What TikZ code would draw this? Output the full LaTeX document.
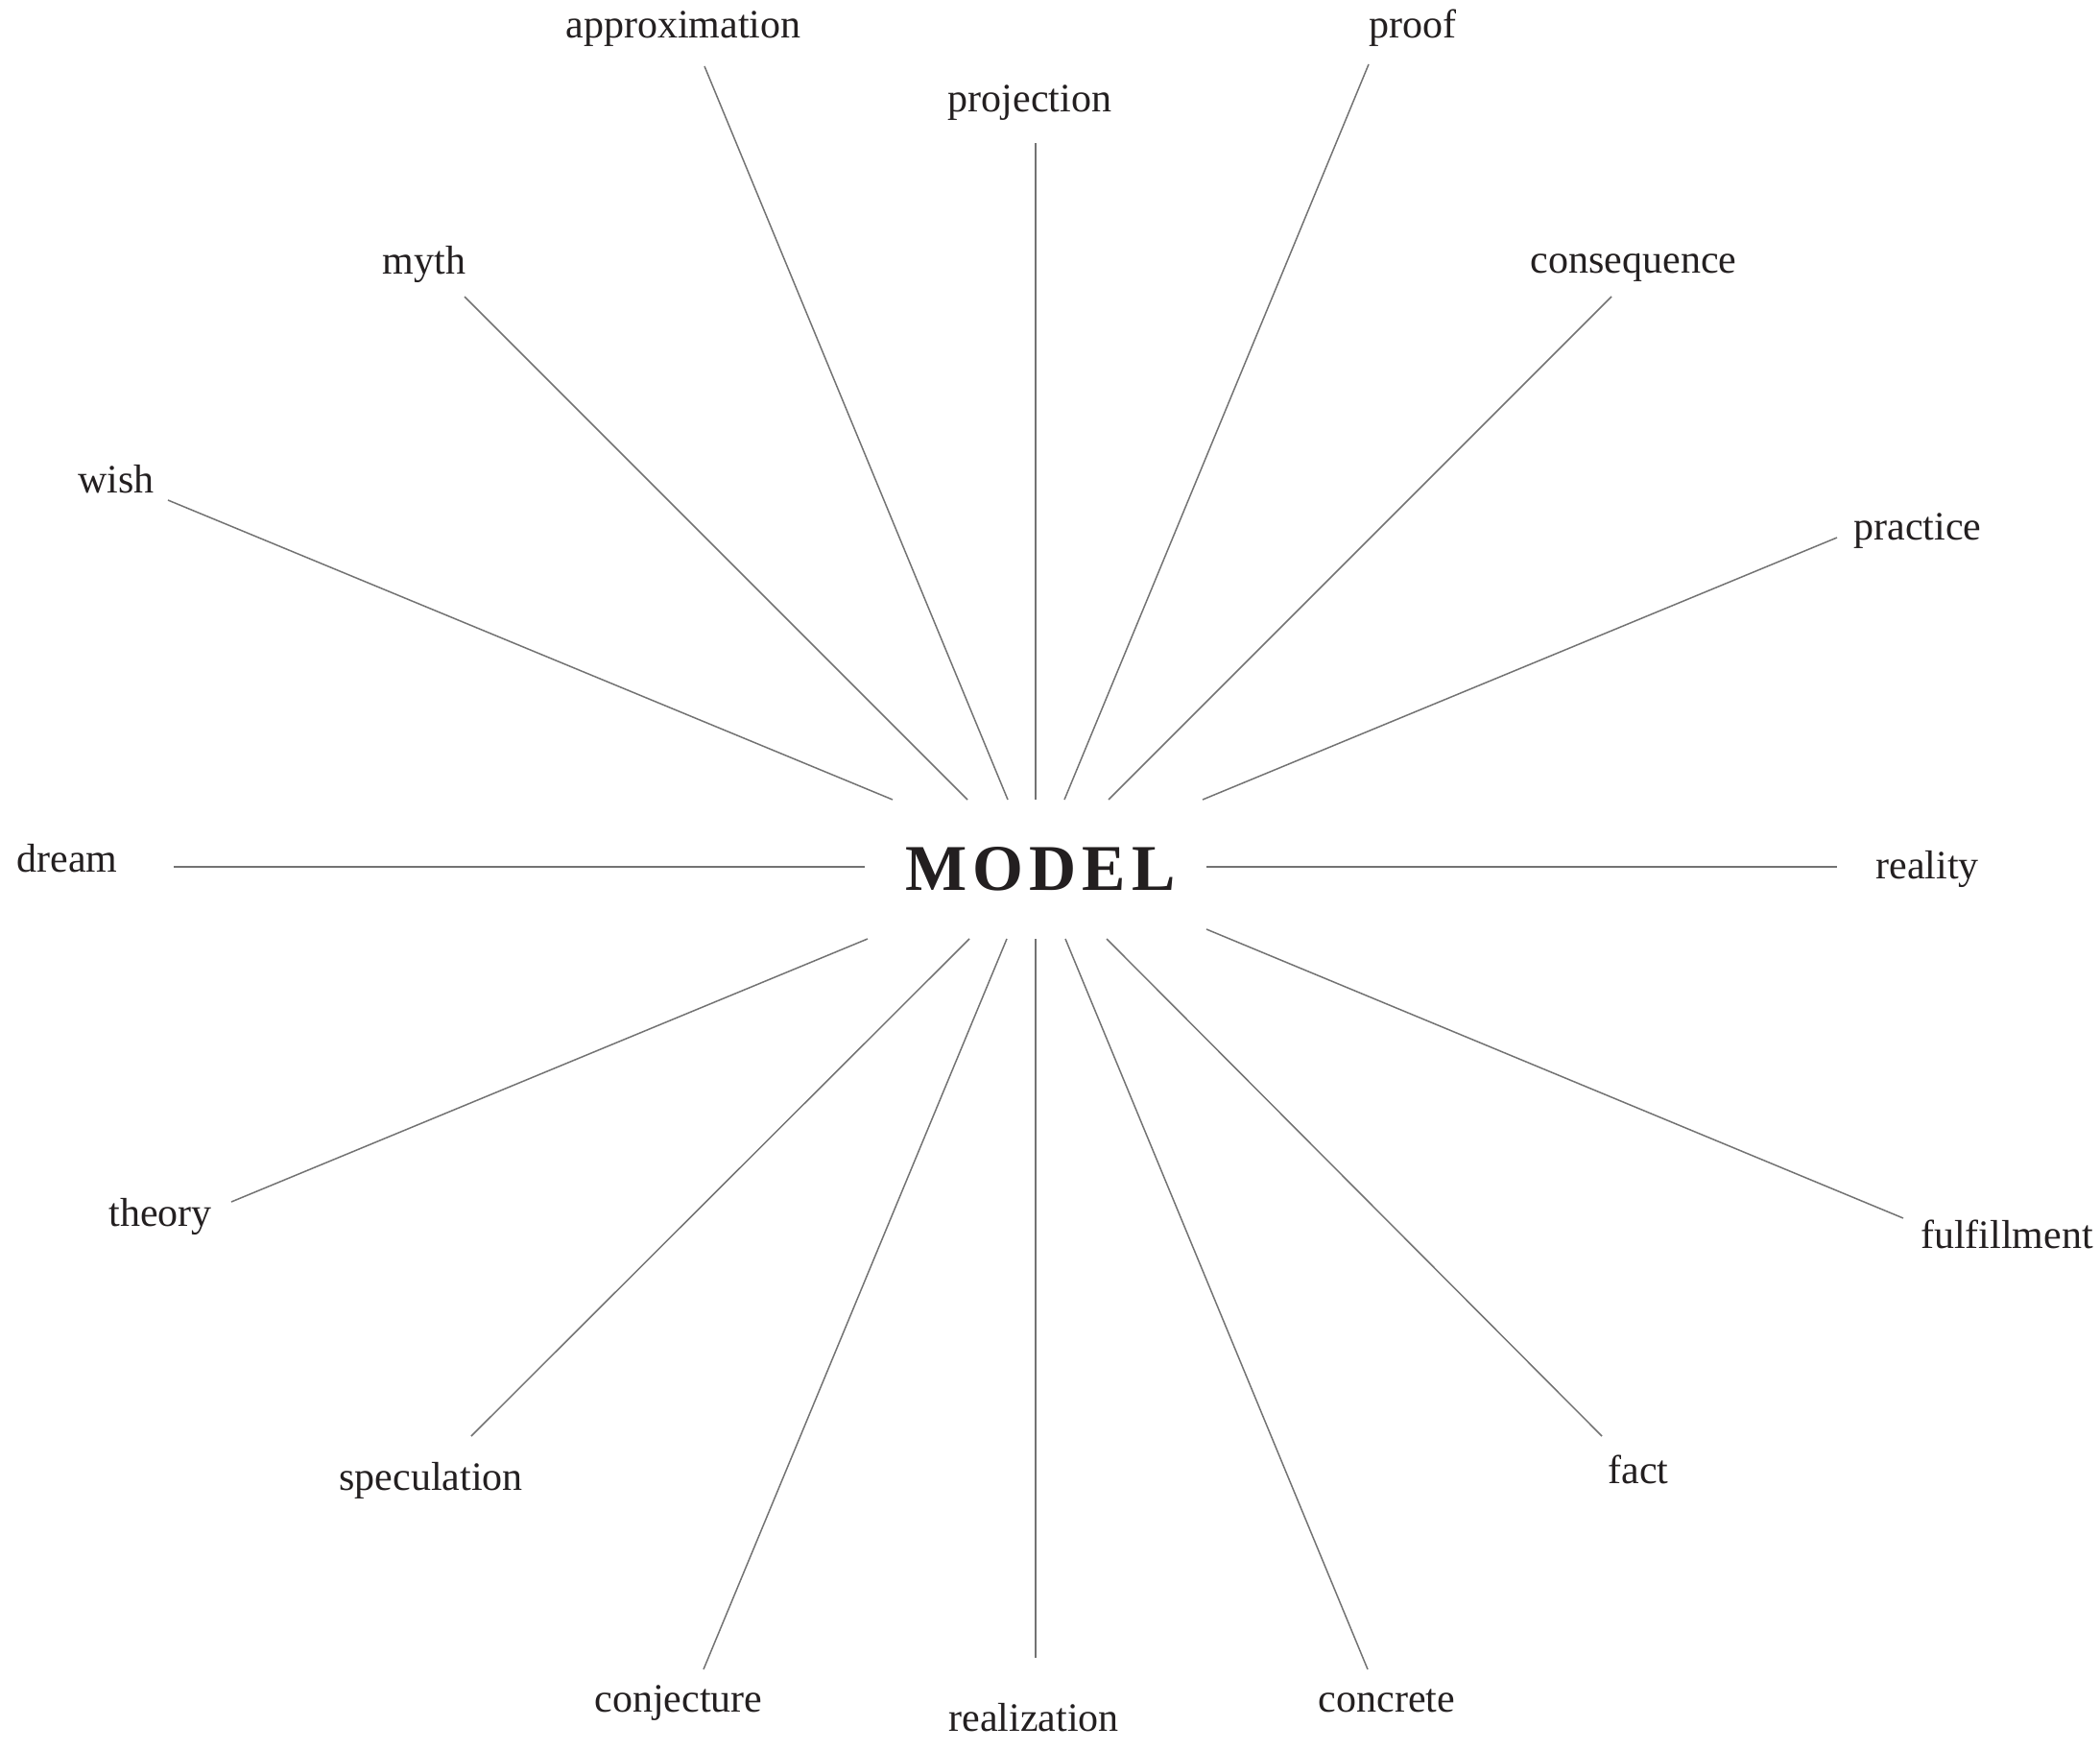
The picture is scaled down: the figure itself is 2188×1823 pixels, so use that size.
\documentclass[tikz,border=0pt]{standalone}
\usepackage{fontspec}
\setmainfont{Liberation Serif}
\usepackage{tikz}
\definecolor{ink}{HTML}{231F20}
\tikzset{
  word/.style={anchor=base, text=ink, inner sep=0pt, font=\fontsize{21}{25}\selectfont},
  ray/.style={draw=black!55, line width=0.75pt}
}

\begin{document}
\begin{tikzpicture}[x=0.5pt,y=-0.5pt]
        \useasboundingbox (0,0) rectangle (2188,1823);
        \node[text=ink, inner sep=0pt, font=\fontsize{34}{40}\selectfont\bfseries\addfontfeature{LetterSpace=9}] (model) at (1084,905) {MODEL};
        % name/text/label x/baseline/outer end/inner end
        \foreach \n/\t/\lx/\ly/\ox/\oy/\ix/\iy in {
            approx/approximation/712/40/734/69/1050/833,
            proj/projection/1073/117/1079/149/1079/833,
            proof/proof/1472/40/1426/67/1109/833,
            myth/myth/442/286/484/309/1008/833,
            conseq/consequence/1702/285/1679/309/1155/833,
            wish/wish/121/514/175/521/930/833,
            practice/practice/1998/563/1914/560/1253/833,
            dream/dream/70/908/181/903/901/903,
            reality/reality/2008/915/1914/903/1257/903,
            theory/theory/167/1277/241/1252/904/978,
            fulfil/fulfillment/2091/1300/1983/1269/1257/968,
            spec/speculation/449/1552/491/1496/1010/978,
            fact/fact/1707/1545/1669/1496/1153/978,
            conj/conjecture/707/1783/733/1739/1049/978,
            real/realization/1077/1803/1079/1727/1079/978,
            concrete/concrete/1445/1783/1425/1739/1110/978}{
            \node[word] (\n) at (\lx,\ly) {\t};
            \coordinate (\n-out) at (\ox,\oy);
            \coordinate (\n-in) at (\ix,\iy);
            \draw[ray] (\n-in) -- (\n-out);
        }
    \end{tikzpicture}
\end{document}
